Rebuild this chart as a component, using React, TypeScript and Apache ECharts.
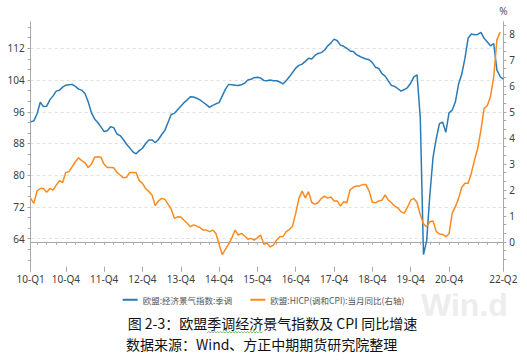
import React, { useEffect, useRef } from "react";
import * as echarts from "echarts";

// ---- categories: monthly, 2010-01 .. 2022-05
const months: string[] = [];
for (let y = 2010; y <= 2022; y++) {
  for (let m = 1; m <= 12; m++) {
    if (y === 2022 && m > 5) break;
    months.push(`${y}-${m < 10 ? "0" + m : m}`);
  }
}

// ---- x tick labels (month where each label sits, and its text)
const xTickMonths = [
  "2010-01", "2010-12", "2011-12", "2012-12", "2013-12", "2014-12", "2015-12",
  "2016-12", "2017-12", "2018-12", "2019-12", "2020-12", "2022-05",
];
const xTickLabels = [
  "10-Q1", "10-Q4", "11-Q4", "12-Q4", "13-Q4", "14-Q4", "15-Q4",
  "16-Q4", "17-Q4", "18-Q4", "19-Q4", "20-Q4", "22-Q2",
];

// ---- y tick labels
const leftAxisLabels = [64, 72, 80, 88, 96, 104, 112];
const rightAxisLabels = [0, 1, 2, 3, 4, 5, 6, 7, 8];

const seriesNames = ["欧盟:经济景气指数:季调", "欧盟:HICP(调和CPI):当月同比(右轴)"];

// ---- EU economic sentiment index (seasonally adjusted), left axis
const esiValues = [
  93.5, 93.7, 95.5, 98.4, 97.3, 97.4, 99, 100, 101.2, 101.4,
  102.2, 102.7, 102.8, 102.9, 102.4, 101.7, 101.4, 100.6, 98.5, 95.8,
  94.2, 93.3, 92.2, 91, 91.2, 92.2, 92, 90.4, 90, 89,
  87.8, 86.9, 85.9, 85.4, 86.2, 86.8, 88, 88.9, 88.9, 88.2,
  89, 90.2, 91.3, 93.3, 95.3, 95.6, 96.5, 97.4, 98.3, 99,
  99.8, 99.7, 99.4, 99, 98.4, 97.8, 97.1, 97.6, 98, 98.3,
  100, 101.7, 102.9, 102.8, 102.7, 102.6, 102.8, 103.2, 104, 104.2,
  104.6, 104.7, 104.5, 103.9, 103.8, 104, 103.8, 103.8, 103.5, 103,
  103.8, 104.8, 105.9, 107, 107.7, 108, 108.7, 109.5, 109.3, 110.2,
  110.7, 110.9, 111.5, 112.6, 113.3, 114.3, 113.9, 112.8, 112.5, 112,
  111.3, 111.2, 110.4, 110, 109.6, 109.3, 109.1, 108.4, 107.2, 106.9,
  105.6, 105, 103.8, 102.6, 102.4, 101.8, 101.2, 101.6, 102.1, 103.2,
  104.8, 105.3, 94.5, 60, 63.5, 75, 84.5, 89.2, 93, 93.4,
  90.8, 95.7, 96.4, 98.5, 103, 105.5, 109.5, 114.6, 115.6, 115.4,
  115.5, 116, 114.5, 113.6, 112.6, 113.2, 106.5, 104.9, 104.2,
];

// ---- EU HICP y/y (%), right axis
const hicpValues = [
  1.67, 1.48, 1.96, 2.05, 2.05, 1.9, 2.05, 1.99, 2.18, 2.35,
  2.28, 2.67, 2.7, 2.89, 3.08, 3.23, 3.12, 3.04, 2.86, 2.98,
  3.25, 3.27, 3.25, 2.98, 2.86, 2.86, 2.85, 2.67, 2.57, 2.46,
  2.48, 2.67, 2.67, 2.66, 2.35, 2.25, 2.05, 1.93, 1.8, 1.39,
  1.57, 1.67, 1.64, 1.45, 1.26, 0.9, 0.96, 0.95, 0.83, 0.71,
  0.58, 0.65, 0.6, 0.55, 0.45, 0.45, 0.39, 0.45, 0.32, -0.1,
  -0.5, -0.28, -0.09, 0.15, 0.45, 0.26, 0.32, 0.22, 0.1, 0.13,
  0.06, 0.15, 0.26, -0.1, -0.06, -0.2, -0.13, 0.06, 0.19, 0.2,
  0.39, 0.47, 0.6, 1.1, 1.67, 1.95, 1.69, 1.93, 1.51, 1.45,
  1.5, 1.67, 1.76, 1.68, 1.72, 1.57, 1.57, 1.37, 1.54, 1.5,
  1.99, 2.1, 2.15, 2.15, 2.2, 2.2, 1.95, 1.52, 1.5, 1.57,
  1.6, 1.8, 1.6, 1.5, 1.37, 1.3, 1.15, 1.1, 1.33, 1.6,
  1.67, 1.5, 1.05, 0.68, 0.58, 0.77, 0.8, 0.4, 0.3, 0.28,
  0.2, 0.3, 1.1, 1.35, 1.67, 2.1, 2.25, 2.25, 2.65, 3.15,
  3.6, 4.3, 5.14, 5.24, 5.6, 6.35, 7.77, 8.07,
];

const captionLines = ["图 2-3：欧盟季调经济景气指数及 CPI 同比增速", "数据来源：Wind、方正中期期货研究院整理"];

const BLUE = "#2a7ab8";
const ORANGE = "#fd8a1c";
const AXIS = "#a8a8a8";
const LABEL = "#404040";

export default function App() {
  const ref = useRef<HTMLDivElement>(null);

  useEffect(() => {
    if (!ref.current) return;
    const chart = echarts.init(ref.current, null, { renderer: "svg" });

    const leftMin = 56.94, leftMax = 118.7;
    const rightMin = -0.96, rightMax = 8.47;
    const leftTicks: number[] = [];
    for (let k = -2; k <= 20; k++) leftTicks.push(64 + (k * 8) / 3);
    const rightTicks: number[] = [];
    for (let k = -2; k <= 25; k++) rightTicks.push(k / 3);

    const labelOf: Record<string, string> = {};
    xTickMonths.forEach((m, i) => (labelOf[m] = xTickLabels[i]));

    // caption squiggle position under "季调经济"
    const capFont = '14px "Noto Sans CJK SC", sans-serif';
    const cap1X = 272.5;
    let sqStart = 193, sqEnd = 252;
    try {
      const c = document.createElement("canvas").getContext("2d");
      if (c) {
        c.font = capFont;
        const total = c.measureText(captionLines[0]).width;
        const left = cap1X - total / 2;
        const idx = captionLines[0].indexOf("季调经济");
        sqStart = left + c.measureText(captionLines[0].slice(0, idx)).width;
        sqEnd = sqStart + c.measureText("季调经济").width;
      }
    } catch (e) {}
    const squiggle: number[][] = [];
    let k = 0;
    for (let x = sqStart; x <= sqEnd; x += 1.5, k++) squiggle.push([x, k % 2 ? 331.5 : 333]);

    chart.setOption({
      animation: false,
      backgroundColor: "#ffffff",
      textStyle: { fontFamily: '"Noto Sans", "Noto Sans CJK SC", sans-serif' },
      grid: {
        left: 30.7,
        right: 23.7,
        top: 21.7,
        bottom: 95.3,
        containLabel: false,
        outerBoundsMode: "none",
      },
      legend: {
        data: seriesNames,
        left: "center",
        top: 290.5,
        icon: "rect",
        itemWidth: 15,
        itemHeight: 2,
        itemGap: 18,
        textStyle: { fontSize: 8.5, color: "#555", fontFamily: '"Noto Sans CJK SC", sans-serif' },
      },
      xAxis: [
        {
          type: "category",
          data: months,
          boundaryGap: false,
          axisLine: { lineStyle: { color: AXIS, width: 1 } },
          axisTick: {
            interval: (i: number) => i === 0 || (i + 1) % 3 === 0,
            length: 3,
            lineStyle: { color: AXIS },
          },
          axisLabel: {
            interval: (_i: number, v: string) => labelOf[v] !== undefined,
            formatter: (v: string) => labelOf[v] || "",
            fontSize: 10,
            color: LABEL,
            margin: 7,
          },
          splitLine: { show: false },
        },
        {
          type: "category",
          data: months,
          boundaryGap: false,
          position: "bottom",
          axisLine: { show: false },
          axisLabel: { show: false },
          axisTick: {
            interval: (_i: number, v: string) => labelOf[v] !== undefined,
            length: 5,
            lineStyle: { color: AXIS },
          },
          splitLine: { show: false },
        },
      ],
      yAxis: [
        {
          type: "value",
          position: "left",
          min: leftMin,
          max: leftMax,
          axisLine: { show: true, lineStyle: { color: AXIS } },
          axisTick: { show: true, customValues: leftAxisLabels, length: 3, lineStyle: { color: AXIS } },
          axisLabel: { customValues: leftAxisLabels, fontSize: 10, color: LABEL, margin: 6 },
          splitLine: { show: true, lineStyle: { color: "#e0e0e0", type: [3, 3], width: 1 } },
        },
        {
          type: "value",
          position: "right",
          min: rightMin,
          max: rightMax,
          name: "%",
          nameLocation: "end",
          nameGap: 6,
          nameTextStyle: { fontSize: 10, color: "#555", align: "center" },
          axisLine: { show: true, lineStyle: { color: AXIS } },
          axisTick: { show: true, customValues: rightTicks, length: 3, lineStyle: { color: AXIS } },
          axisLabel: { customValues: rightAxisLabels, fontSize: 10, color: LABEL, margin: 6 },
          splitLine: { show: false },
        },
        {
          type: "value",
          position: "left",
          min: leftMin,
          max: leftMax,
          axisLine: { show: false },
          axisTick: { show: true, customValues: leftTicks, length: 3, lineStyle: { color: AXIS } },
          axisLabel: { show: false },
          splitLine: { show: false },
        },
      ],
      series: [
        {
          name: seriesNames[0],
          type: "line",
          data: esiValues,
          yAxisIndex: 0,
          symbol: "none",
          lineStyle: { color: BLUE, width: 1.5 },
          itemStyle: { color: BLUE },
        },
        {
          name: seriesNames[1],
          type: "line",
          data: hicpValues,
          yAxisIndex: 1,
          symbol: "none",
          lineStyle: { color: ORANGE, width: 1.5 },
          itemStyle: { color: ORANGE },
        },
      ],
      graphic: [
        {
          type: "text",
          z: -10,
          left: 421,
          top: 289,
          style: {
            text: "Win.d",
            fontSize: 32,
            fontWeight: "bold",
            fontFamily: '"Liberation Sans", sans-serif',
            fill: "#ededed",
          },
        },
        {
          type: "text",
          x: cap1X,
          y: 323,
          style: {
            text: captionLines[0],
            font: capFont,
            fill: "#111",
            align: "center",
            verticalAlign: "middle",
          },
        },
        {
          type: "text",
          x: 261.7,
          y: 344,
          style: {
            text: captionLines[1],
            font: capFont,
            fill: "#111",
            align: "center",
            verticalAlign: "middle",
          },
        },
        {
          type: "polyline",
          shape: { points: squiggle },
          style: { stroke: "#4fa94f", lineWidth: 0.8, fill: null },
        },
      ],
    });

    return () => chart.dispose();
  }, []);

  return (
    <div
      ref={ref}
      style={{ position: "absolute", left: 0, top: 0, width: 527, height: 362, background: "#fff" }}
    />
  );
}
